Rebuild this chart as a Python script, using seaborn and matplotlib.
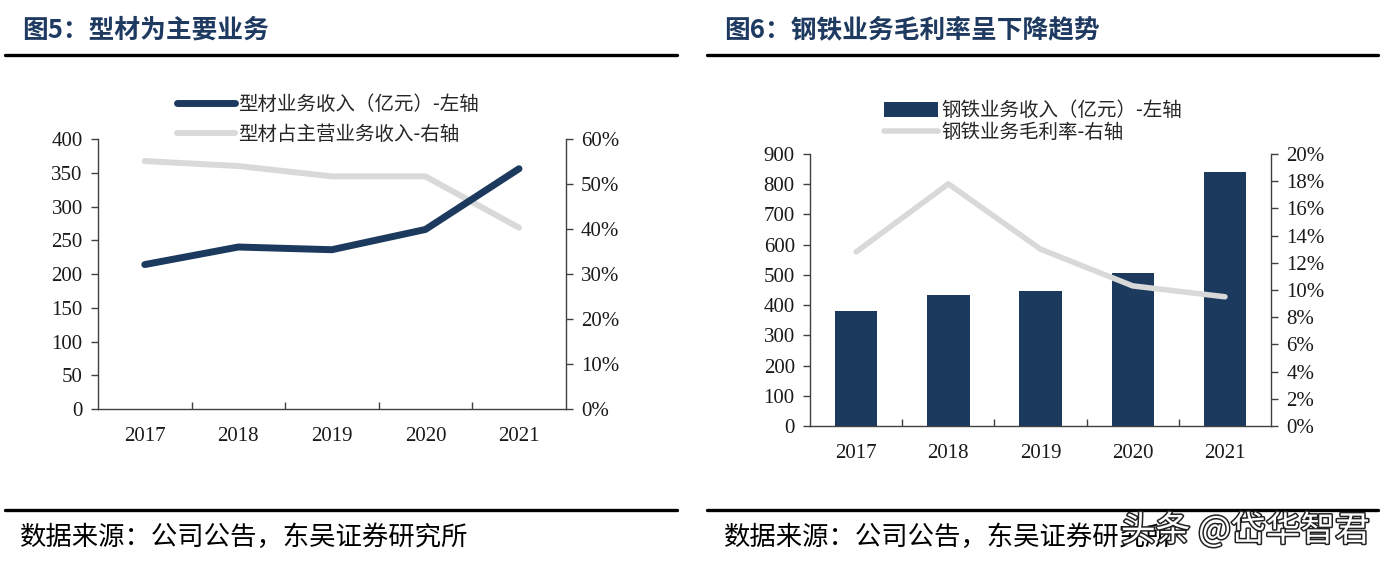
import numpy as np
import pandas as pd
import matplotlib
matplotlib.use("Agg")
import matplotlib.pyplot as plt
import matplotlib.patheffects as pe
from matplotlib.lines import Line2D
from matplotlib.patches import Patch
from matplotlib.ticker import FuncFormatter, MultipleLocator, FixedLocator
import seaborn as sns

# data
years = ["2017", "2018", "2019", "2020", "2021"]
profile_rev = [214, 240, 236, 266, 356]           # 型材业务收入（亿元）
profile_share = [0.551, 0.540, 0.517, 0.517, 0.403]  # 型材占主营业务收入
steel_rev = [379, 434, 447, 507, 842]             # 钢铁业务收入（亿元）
steel_margin = [0.128, 0.178, 0.130, 0.103, 0.095]  # 钢铁业务毛利率

navy = "#1b3a5e"
grey = "#d9d9d9"
spine_c = "#404040"
title_c = "#1f3a60"

sns.set_theme(style="white")
cjk = ["Noto Sans CJK SC", "DejaVu Sans"]
serif = ["Liberation Serif", "Noto Sans CJK SC"]
plt.rcParams["font.family"] = cjk

fig = plt.figure(figsize=(13.84, 5.64), dpi=100)

df1 = pd.DataFrame({"year": years, "rev": profile_rev, "share": profile_share})
df2 = pd.DataFrame({"year": years, "rev": steel_rev, "margin": steel_margin})


def style_axes(ax, ax2):
    for a in (ax, ax2):
        a.set_facecolor("none")
        a.spines["top"].set_visible(False)
        for s in ("left", "right", "bottom"):
            a.spines[s].set_color(spine_c)
            a.spines[s].set_linewidth(1.0)
    ax.spines["right"].set_visible(False)
    ax2.spines["left"].set_visible(False)
    ax2.spines["bottom"].set_visible(False)
    ax.set_xlim(-0.5, 4.5)
    ax.set_xlabel("")
    ax.set_ylabel("")
    ax2.set_ylabel("")
    ax.tick_params(axis="y", which="both", left=True, direction="out", length=5,
                   width=1, color=spine_c, labelsize=15, pad=6)
    ax2.tick_params(axis="y", which="both", right=True, direction="out", length=5,
                    width=1, color=spine_c, labelsize=15, pad=6)
    ax.xaxis.set_minor_locator(FixedLocator([0.5, 1.5, 2.5, 3.5]))
    ax.tick_params(axis="x", which="major", bottom=False, length=0, labelsize=15, pad=13)
    ax.tick_params(axis="x", which="minor", bottom=True, direction="in", length=5,
                   width=1, color=spine_c)
    for lab in ax.get_xticklabels() + ax.get_yticklabels() + ax2.get_yticklabels():
        lab.set_fontfamily(serif)
        lab.set_color("#1a1a1a")


# ---- left chart: 图5
ax1 = fig.add_axes([0.0708, 0.2748, 0.338, 0.4787])
ax1b = ax1.twinx()
sns.lineplot(data=df1, x="year", y="rev", ax=ax1, color=navy, linewidth=5,
             solid_capstyle="round", sort=False)
sns.lineplot(data=df1, x="year", y="share", ax=ax1b, color=grey, linewidth=4.3,
             solid_capstyle="round", sort=False)
ax1.set_zorder(2)
ax1b.set_zorder(1)
ax1.set_ylim(0, 400)
ax1.yaxis.set_major_locator(MultipleLocator(50))
ax1b.set_ylim(0, 0.6)
ax1b.yaxis.set_major_locator(MultipleLocator(0.1))
ax1b.yaxis.set_major_formatter(FuncFormatter(lambda v, p: f"{v * 100:.0f}%"))
style_axes(ax1, ax1b)

h1 = [Line2D([0], [0], color=navy, lw=5), Line2D([0], [0], color=grey, lw=4.3)]
fig.legend(h1, ["型材业务收入（亿元）-左轴", "型材占主营业务收入-右轴"],
           loc="upper left", bbox_to_anchor=(177 / 1384, 1 - 94 / 564), frameon=False,
           prop={"family": cjk, "size": 14}, handlelength=3.0, handletextpad=0.15,
           labelspacing=0.45, borderpad=0, borderaxespad=0)

# ---- right chart: 图6
ax2 = fig.add_axes([0.5853, 0.2447, 0.3331, 0.4823])
ax2b = ax2.twinx()
sns.barplot(data=df2, x="year", y="rev", ax=ax2, color=navy, width=0.46,
            saturation=1, edgecolor="none")
sns.lineplot(data=df2, x="year", y="margin", ax=ax2b, color=grey, linewidth=4,
             solid_capstyle="round", sort=False)
ax2.set_ylim(0, 900)
ax2.yaxis.set_major_locator(MultipleLocator(100))
ax2b.set_ylim(0, 0.2)
ax2b.yaxis.set_major_locator(MultipleLocator(0.02))
ax2b.yaxis.set_major_formatter(FuncFormatter(lambda v, p: f"{v * 100:.0f}%"))
style_axes(ax2, ax2b)

h2 = [Patch(facecolor=navy, edgecolor="none"), Line2D([0], [0], color=grey, lw=4)]
fig.legend(h2, ["钢铁业务收入（亿元）-左轴", "钢铁业务毛利率-右轴"],
           loc="upper left", bbox_to_anchor=(884 / 1384, 1 - 100 / 564), frameon=False,
           prop={"family": cjk, "size": 14}, handlelength=2.8, handleheight=0.8,
           handletextpad=0.15, labelspacing=0.05, borderpad=0, borderaxespad=0)

# ---- titles, rules and sources
fig.text(22 / 1384, 1 - 30 / 564, "图5：型材为主要业务", fontsize=18.5, fontweight="bold",
         color=title_c, va="center", ha="left", family=cjk)
fig.text(724 / 1384, 1 - 30 / 564, "图6：钢铁业务毛利率呈下降趋势", fontsize=18.5,
         fontweight="bold", color=title_c, va="center", ha="left", family=cjk)

for x0, x1 in ((5, 677), (707, 1378)):
    for y in (55, 510):
        fig.add_artist(Line2D([x0 / 1384, x1 / 1384], [1 - y / 564, 1 - y / 564],
                              transform=fig.transFigure, color="black", lw=2.4))

fig.text(20 / 1384, 1 - 537 / 564, "数据来源：公司公告，东吴证券研究所", fontsize=19,
         color="black", va="center", ha="left", family=cjk)
fig.text(724 / 1384, 1 - 537 / 564, "数据来源：公司公告，东吴证券研究所", fontsize=19,
         color="black", va="center", ha="left", family=cjk)

# watermark (overlaps the right source line, as in the reference)
fig.text(1370 / 1384, 1 - 531 / 564, "头条 @岱华智君", fontsize=25, color="white",
         va="center", ha="right", family=cjk,
         path_effects=[pe.withStroke(linewidth=2.2, foreground="#222222")])

fig.savefig("out.png", dpi=100, facecolor="white")
